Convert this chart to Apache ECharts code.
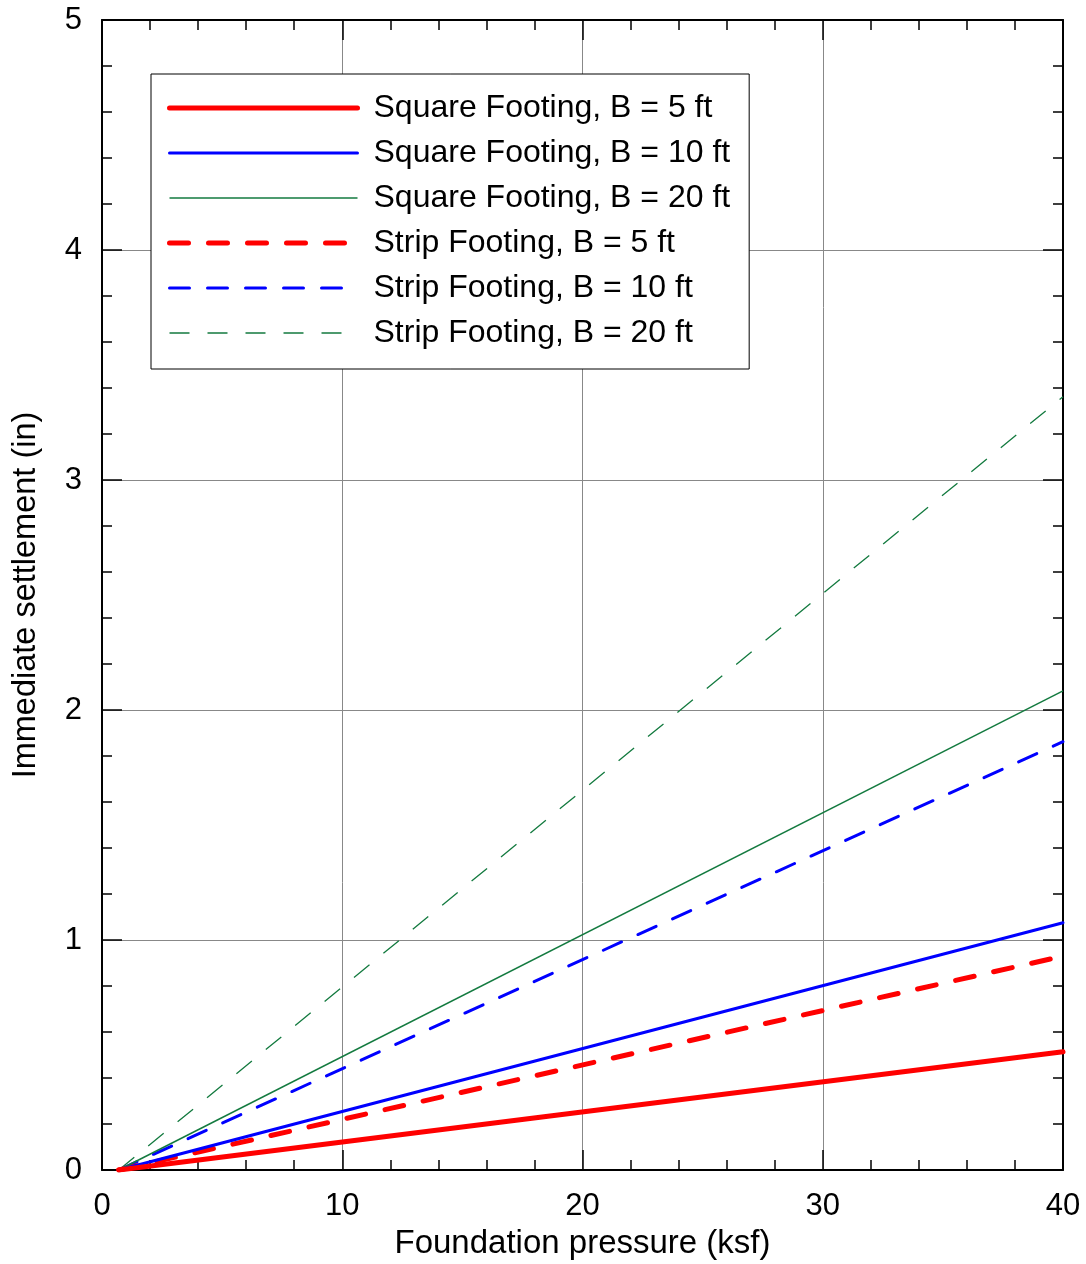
<!DOCTYPE html>
<html>
<head>
<meta charset="utf-8">
<script src="https://cdn.jsdelivr.net/npm/echarts@6/dist/echarts.min.js"></script>
<style>
html,body{margin:0;padding:0;background:#fff;}
#chart{width:1086px;height:1264px;}
</style>
</head>
<body>
<div id="chart"></div>
<script>
const pressure = [0.7, 40];
const squareB5 = [0, 0.514];
const squareB10 = [0, 1.075];
const squareB20 = [0, 2.083];
const stripB5 = [0, 0.930];
const stripB10 = [0, 1.862];
const stripB20 = [0, 3.362];
const seriesNames = [
  'Square Footing, B = 5 ft',
  'Square Footing, B = 10 ft',
  'Square Footing, B = 20 ft',
  'Strip Footing, B = 5 ft',
  'Strip Footing, B = 10 ft',
  'Strip Footing, B = 20 ft'
];
const xTitle = 'Foundation pressure (ksf)';
const yTitle = 'Immediate settlement (in)';

const RED = '#ff0000', BLUE = '#0000ff', GREEN = '#137a3f';
const FONT = 'Liberation Sans, Arial, sans-serif';
const pair = (ys) => pressure.map((x, i) => [x, ys[i]]);

const styles = [
  {color: RED, width: 5, type: 'solid', cap: 'round'},
  {color: BLUE, width: 3, type: 'solid', cap: 'round'},
  {color: GREEN, width: 1.5, type: 'solid', cap: 'butt'},
  {color: RED, width: 5, type: [19, 20], cap: 'round'},
  {color: BLUE, width: 3, type: [20, 18], cap: 'round'},
  {color: GREEN, width: 1.3, type: [20, 18], cap: 'butt'}
];
const datas = [squareB5, squareB10, squareB20, stripB5, stripB10, stripB20];

const series = datas.map((d, i) => ({
  name: seriesNames[i],
  type: 'line',
  data: pair(d),
  symbol: 'none',
  showSymbol: false,
  animation: false,
  color: styles[i].color,
  lineStyle: {color: styles[i].color, width: styles[i].width, type: styles[i].type, cap: styles[i].cap},
  z: 10 - i
}));

const legendData = seriesNames.map((n, i) => ({
  name: n,
  itemStyle: {color: 'rgba(0,0,0,0)', borderWidth: 0, opacity: 0},
  lineStyle: {color: styles[i].color, width: styles[i].width, type: styles[i].type, cap: styles[i].cap, opacity: 1}
}));

const axisCommon = {
  axisLine: {show: true, onZero: false, lineStyle: {color: '#000', width: 2}},
  axisTick: {show: true, inside: true, length: 20, lineStyle: {color: '#000', width: 1.5}},
  minorTick: {show: true, splitNumber: 5, length: 10, lineStyle: {color: '#000', width: 1.5}},
};

const chart = echarts.init(document.getElementById('chart'), null, {renderer: 'canvas'});
chart.setOption({
  backgroundColor: '#fff',
  animation: false,
  textStyle: {fontFamily: FONT},
  grid: {left: 102, right: 23, top: 20, bottom: 94, containLabel: false, outerBoundsMode: 'none'},
  legend: {
    show: true,
    orient: 'vertical',
    left: 151,
    top: 74,
    data: legendData,
    itemWidth: 188,
    itemHeight: 14,
    itemGap: 11,
    borderColor: '#000',
    borderWidth: 1,
    padding: [17, 19, 19, 16],
    backgroundColor: '#fff',
    textStyle: {fontFamily: FONT, fontSize: 32, color: '#000', lineHeight: 34, padding: [0, 0, 0, 11]},
    selectedMode: false
  },
  xAxis: [
    Object.assign({
      type: 'value', min: 0, max: 40, interval: 10, position: 'bottom',
      name: xTitle, nameLocation: 'middle', nameGap: 57,
      nameTextStyle: {fontFamily: FONT, fontSize: 33, color: '#000'},
      axisLabel: {fontFamily: FONT, fontSize: 31, color: '#000', margin: 21},
      splitLine: {show: true, lineStyle: {color: '#888', width: 1}}
    }, axisCommon),
    Object.assign({
      type: 'value', min: 0, max: 40, interval: 10, position: 'top',
      axisLabel: {show: false}, splitLine: {show: false}
    }, axisCommon)
  ],
  yAxis: [
    Object.assign({
      type: 'value', min: 0, max: 5, interval: 1, position: 'left',
      name: yTitle, nameLocation: 'middle', nameGap: 59, nameRotate: 90,
      nameTextStyle: {fontFamily: FONT, fontSize: 32.5, color: '#000'},
      axisLabel: {fontFamily: FONT, fontSize: 31, color: '#000', margin: 20},
      splitLine: {show: true, lineStyle: {color: '#888', width: 1}}
    }, axisCommon),
    Object.assign({
      type: 'value', min: 0, max: 5, interval: 1, position: 'right',
      axisLabel: {show: false}, splitLine: {show: false}
    }, axisCommon)
  ],
  series: series
});
</script>
</body>
</html>
